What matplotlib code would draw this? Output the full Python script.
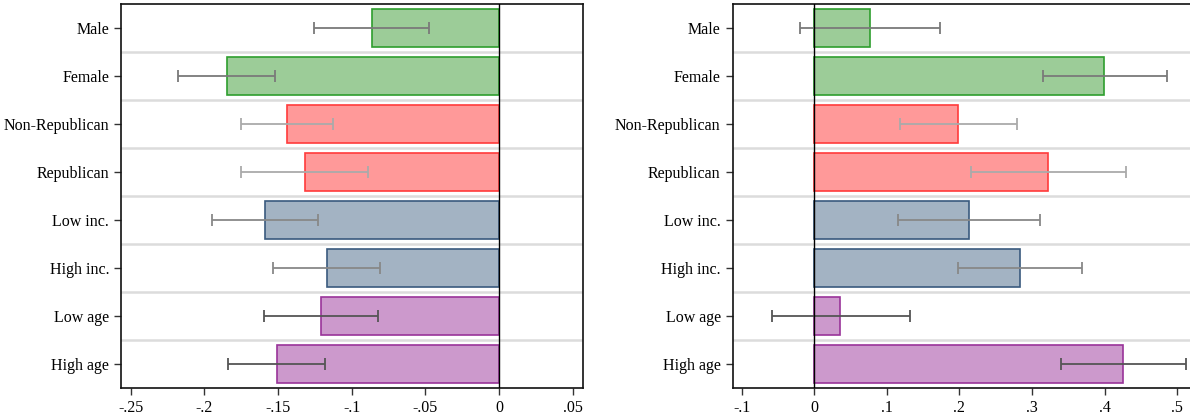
import numpy as np
import matplotlib.pyplot as plt

plt.rcParams['font.family'] = ['Liberation Serif', 'DejaVu Serif']

# Data
groups = ['Male', 'Female', 'Non-Republican', 'Republican',
          'Low inc.', 'High inc.', 'Low age', 'High age']

left_est = [-0.0865, -0.1847, -0.1437, -0.1317, -0.1586, -0.1170, -0.1207, -0.1507]
left_lo = [-0.1257, -0.2179, -0.1753, -0.1748, -0.1949, -0.1536, -0.1596, -0.1839]
left_hi = [-0.0473, -0.1520, -0.1126, -0.0891, -0.1230, -0.0810, -0.0820, -0.1178]

right_est = [0.0764, 0.3990, 0.1980, 0.3225, 0.2126, 0.2830, 0.0356, 0.4257]
right_lo = [-0.0199, 0.3147, 0.1178, 0.2157, 0.1157, 0.1974, -0.0586, 0.3393]
right_hi = [0.1738, 0.4864, 0.2796, 0.4298, 0.3105, 0.3691, 0.1314, 0.5120]

left_ticks = [-0.25, -0.2, -0.15, -0.1, -0.05, 0, 0.05]
left_ticklabels = ['-.25', '-.2', '-.15', '-.1', '-.05', '0', '.05']
right_ticks = [-0.1, 0, 0.1, 0.2, 0.3, 0.4, 0.5]
right_ticklabels = ['-.1', '0', '.1', '.2', '.3', '.4', '.5']

# Styles per pair of groups
fills = ['#9ccc98', '#9ccc98', '#ff9999', '#ff9999',
         '#a3b3c3', '#a3b3c3', '#cc99cc', '#cc99cc']
edges = ['#2e9e2e', '#2e9e2e', '#ff3b3b', '#ff3b3b',
         '#3a5a7e', '#3a5a7e', '#993399', '#993399']
errc = ['#7a7a7a', '#7a7a7a', '#aaaaaa', '#aaaaaa',
        '#888888', '#888888', '#555555', '#555555']


def panel(ax, est, lo, hi, xlim, ticks, ticklabels):
    y = np.arange(len(groups))
    ax.barh(y, est, height=0.79, color=fills, edgecolor=edges, linewidth=1.2, zorder=2)
    for i in range(len(groups)):
        ax.errorbar(est[i], y[i], xerr=[[est[i] - lo[i]], [hi[i] - est[i]]],
                    fmt='none', ecolor=errc[i], elinewidth=1.3, capsize=4,
                    capthick=1.3, zorder=3)
    for b in np.arange(0.5, len(groups) - 1, 1.0):
        ax.axhline(b, color='#dcdcdc', linewidth=1.8, zorder=1)
    ax.axvline(0, color='black', linewidth=1.0, zorder=4)
    ax.set_ylim(len(groups) - 0.5, -0.5)
    ax.set_xlim(*xlim)
    ax.set_yticks(y)
    ax.set_yticklabels(groups, fontsize=11.5)
    ax.set_xticks(ticks)
    ax.set_xticklabels(ticklabels, fontsize=11.5)
    ax.tick_params(axis='both', direction='out', length=5, width=1, color='#333333')
    for s in ax.spines.values():
        s.set_linewidth(1.2)
        s.set_color('#111111')


fig = plt.figure(figsize=(11.9, 4.18), dpi=100)
ax1 = fig.add_axes([121 / 1190, 1 - 388 / 418, (583 - 121) / 1190, (388 - 4.3) / 418])
# right panel runs past the figure edge, as in the original crop
ax2 = fig.add_axes([732.5 / 1190, 1 - 388 / 418, (1210 - 732.5) / 1190, (388 - 4.3) / 418])

panel(ax1, left_est, left_lo, left_hi, (-0.2565, 0.0569), left_ticks, left_ticklabels)
panel(ax2, right_est, right_lo, right_hi, (-0.1127, 0.5453), right_ticks, right_ticklabels)

fig.savefig('out.png', dpi=100)
